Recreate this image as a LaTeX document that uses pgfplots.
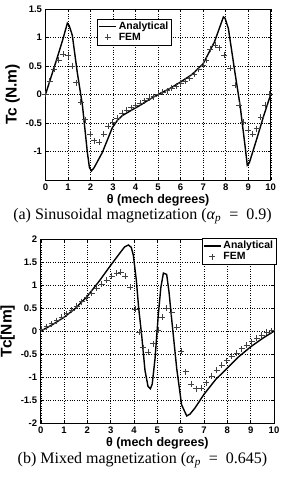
\documentclass[border=0pt]{standalone}
\usepackage{fontspec}
\setmainfont{Liberation Serif}
\setsansfont{Liberation Sans}
\usepackage{pgfplots}
\pgfplotsset{compat=1.18}
\pgfplotsset{
  mystyle/.style={
    scale only axis,
    xmin=0, xmax=10,
    xtick={0,1,2,3,4,5,6,7,8,9,10},
    xticklabels={0,1,2,3,4,5,6,7,8,9,10},
    tick align=inside,
    tick pos=both,
    xticklabel pos=lower, yticklabel pos=left,
    major tick length=3pt,
    axis line style={black, line width=0.6pt},
    tick style={black, line width=0.4pt},
    grid=major,
    major grid style={black, line width=0.4pt, dash pattern=on 0.8pt off 1.6pt},
    tick label style={font=\sffamily\bfseries\fontsize{9.5}{10}\selectfont},
    xlabel style={font=\sffamily\bfseries\fontsize{12.5}{13}\selectfont, yshift=3pt},
    ylabel style={font=\sffamily\bfseries\fontsize{15.5}{16}\selectfont, yshift=-1pt},
    xlabel={θ (mech degrees)},
    legend style={draw=black, line width=0.5pt,
      font=\sffamily\bfseries\fontsize{10.5}{11}\selectfont,
      inner sep=1pt, row sep=-2pt, cells={anchor=west}},
  },
  ana/.style={black, line width=1.4pt, no marks},
  fem/.style={only marks, mark=+, mark size=3pt, black!75, mark options={line width=0.6pt}},
}
\begin{document}
\begin{tikzpicture}
\useasboundingbox (0,0) rectangle (285pt,479pt);
\begin{axis}[mystyle,
  at={(45.5pt,299pt)}, anchor=south west,
  width=225.2pt, height=171pt,
  ymin=-1.5, ymax=1.5,
  ytick={-1,-0.5,0,0.5,1,1.5},
  yticklabels={-1,-0.5,0,0.5,1,1.5},
  ylabel={Tc (N.m)},
  legend style={at={(axis cs:2.29,1.33)}, anchor=north west},
]
\addplot[ana] coordinates {
(0,0) (0.25,0.31) (0.5,0.62) (0.75,0.94) (0.9,1.15) (0.97,1.25) (1.05,1.21) (1.19,1.04)
(1.41,0.39) (1.64,-0.19) (1.86,-1.02) (1.95,-1.28) (2.04,-1.34) (2.15,-1.29) (2.52,-1.02)
(2.97,-0.58) (3.2,-0.45) (3.41,-0.37) (3.8,-0.28) (4.2,-0.19) (4.6,-0.09) (5,0)
(5.5,0.1) (6,0.22) (6.5,0.35) (7,0.54) (7.5,0.92) (7.9,1.36) (7.97,1.34) (8.12,1.16)
(8.41,0.39) (8.64,-0.19) (8.86,-0.9) (8.96,-1.24) (9.05,-1.2) (9.38,-0.78) (9.7,-0.36) (10,0)
};
\addplot[fem] coordinates {
(0,0) (0.18,0.23) (0.37,0.44) (0.58,0.6) (0.79,0.71) (1.0,0.68) (1.19,0.50) (1.37,0.21)
(1.56,-0.14) (1.76,-0.44) (1.97,-0.69) (2.17,-0.81) (2.38,-0.84) (2.58,-0.70) (2.78,-0.56)
(2.98,-0.49) (3.19,-0.41) (3.39,-0.33) (3.6,-0.28) (3.8,-0.23) (4.0,-0.19) (4.2,-0.15)
(4.4,-0.11) (4.6,-0.07) (4.8,-0.04) (5.0,0) (5.2,0.04) (5.4,0.07) (5.6,0.11) (5.8,0.15)
(6.0,0.2) (6.2,0.24) (6.4,0.29) (6.6,0.36) (6.8,0.44) (7.0,0.51) (7.13,0.6) (7.31,0.8)
(7.53,0.86) (7.72,0.82) (7.94,0.69) (8.19,0.46) (8.41,0.16) (8.6,-0.19) (8.78,-0.49)
(9.0,-0.63) (9.2,-0.69) (9.38,-0.6) (9.56,-0.4) (9.75,-0.19) (9.95,0)
};
\legend{Analytical,FEM}
\end{axis}
\begin{axis}[mystyle,
  at={(40.7pt,55.7pt)}, anchor=south west,
  width=233.3pt, height=184.3pt,
  ymin=-2, ymax=2,
  ytick={-2,-1.5,-1,-0.5,0,0.5,1,1.5,2},
  yticklabels={-2,-1.5,-1,-0.5,0,0.5,1,1.5,2},
  ylabel={Tc[Nm]},
  legend style={at={(1.01,1.005)}, anchor=north east},
]
\addplot[ana] coordinates {
(0,0) (0.5,0.14) (1,0.3) (1.5,0.5) (2,0.76) (2.5,1.08) (3,1.43) (3.4,1.7) (3.6,1.83)
(3.76,1.87) (3.88,1.82) (3.97,1.65) (4.1,1.1) (4.2,0.5) (4.33,-0.1) (4.47,-0.85)
(4.6,-1.2) (4.7,-1.25) (4.78,-1.15) (4.9,-0.6) (5.04,0.35) (5.15,0.95) (5.26,1.26)
(5.4,1.23) (5.5,0.85) (5.61,0.28) (5.83,-0.81) (6.04,-1.6) (6.26,-1.84) (6.4,-1.8)
(6.61,-1.67) (7,-1.37) (7.5,-1.05) (8,-0.8) (8.5,-0.55) (9,-0.34) (9.5,-0.16) (10,0)
};
\addplot[fem] coordinates {
(0.04,0.04) (0.26,0.1) (0.47,0.16) (0.69,0.23) (0.9,0.3) (1.11,0.38) (1.33,0.46)
(1.54,0.55) (1.76,0.64) (1.97,0.73) (2.19,0.82) (2.4,0.93) (2.61,1.02) (2.83,1.11)
(3.04,1.2) (3.25,1.26) (3.43,1.28) (3.61,1.2) (3.83,0.95) (4.04,0.47) (4.23,-0.02)
(4.4,-0.36) (4.61,-0.45) (4.83,-0.27) (5.04,0.02) (5.21,0.31) (5.4,0.5) (5.61,0.41)
(5.83,0.08) (6.01,-0.43) (6.21,-0.88) (6.44,-1.15) (6.66,-1.25) (6.88,-1.24) (7.1,-1.12)
(7.33,-0.97) (7.54,-0.85) (7.76,-0.74) (7.97,-0.64) (8.19,-0.55) (8.4,-0.47) (8.61,-0.38)
(8.83,-0.3) (9.04,-0.23) (9.26,-0.15) (9.47,-0.08) (9.69,-0.02) (9.9,0.01)
};
\legend{Analytical,FEM}
\end{axis}
\node[font=\fontsize{16}{18}\selectfont] at (142.5pt,263pt) {(a) Sinusoidal magnetization (\textit{α}\textsubscript{\textit{p}}\enspace=\enspace0.9)};
\node[font=\fontsize{16}{18}\selectfont] at (142.5pt,19pt) {(b) Mixed magnetization (\textit{α}\textsubscript{\textit{p}}\enspace=\enspace0.645)};
\end{tikzpicture}
\end{document}
